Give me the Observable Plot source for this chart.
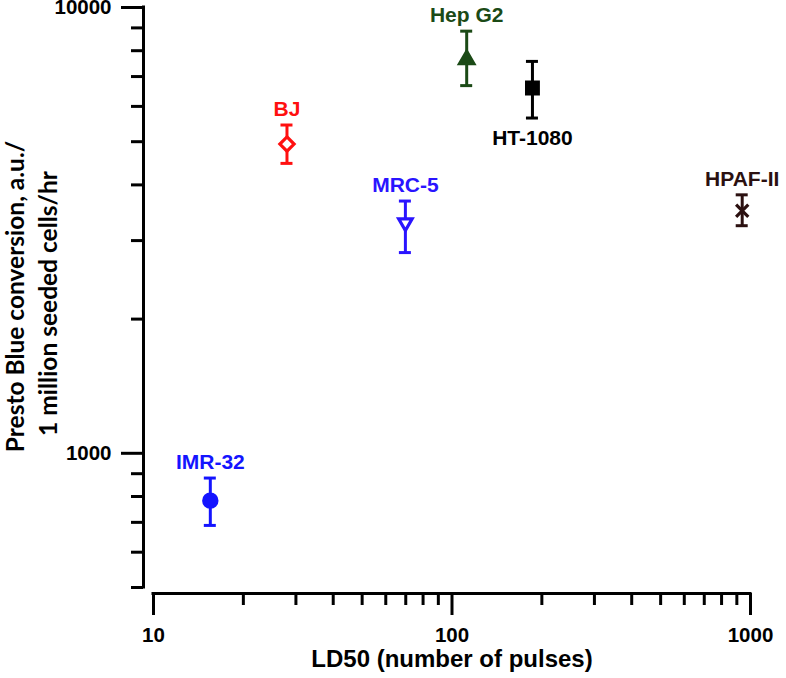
<!DOCTYPE html>
<html>
<head>
<meta charset="utf-8">
<script src="https://cdn.jsdelivr.net/npm/d3@7"></script>
<script src="https://cdn.jsdelivr.net/npm/@observablehq/plot@0.6"></script>
<style>
  html, body { margin: 0; padding: 0; background: #fff; }
  #chart svg { display: block; }
</style>
</head>
<body>
<div id="chart"></div>
<script>
// ---- data ----
const cellLines = ["IMR-32", "BJ", "MRC-5", "Hep G2", "HT-1080", "HPAF-II"];
const ld50      = [15.5, 28.0, 69.8, 112, 186, 938];
const presto    = [783, 4940, 3290, 7640, 6600, 3500];
const errLow    = [689, 4470, 2820, 6680, 5650, 3240];
const errHigh   = [880, 5450, 3680, 8850, 7570, 3800];
const colors    = ["#1414ff", "#ff1010", "#2a14ff", "#1b4a16", "#000000", "#2b1010"];
const symbols   = ["circle", "diamond2", "triangle", "triangle", "square", "times"];
const filled    = [true, false, false, true, true, false];
const rotations = [0, 0, 180, 0, 0, 0];
const symbolR   = [6.6, 6.4, 5.0, 5.3, 6.6, 5.6];
const labelBelow = [false, false, false, false, true, false];

const xDomain = [10, 1000];
const yDomain = [500, 10000];
const xMajorTicks = [10, 100, 1000];
const xMinorTicks = [20, 30, 40, 50, 60, 70, 80, 90, 200, 300, 400, 500, 600, 700, 800, 900];
const yMajorTicks = [1000, 10000];
const yMinorTicks = [500, 600, 700, 800, 900, 2000, 3000, 4000, 5000, 6000, 7000, 8000, 9000];

const xLabel = "LD50 (number of pulses)";
const yLabelLines = ["Presto Blue conversion, a.u./", "1 million seeded cells/hr"];

const data = cellLines.map((name, i) => ({
  name, x: ld50[i], y: presto[i], lo: errLow[i], hi: errHigh[i],
  color: colors[i], symbol: symbols[i], fill: filled[i] ? colors[i] : "white",
  rotate: rotations[i], r: symbolR[i], below: labelBelow[i]
}));

const tickFont = "Liberation Sans, Arial, sans-serif";
const labelFont = "Lato, 'Open Sans', sans-serif";

const chart = Plot.plot({
  width: 786,
  height: 678,
  marginLeft: 153,
  marginRight: 36,
  marginTop: 7,
  marginBottom: 91,
  style: { fontFamily: tickFont, background: "white", color: "black", overflow: "visible" },
  x: { type: "log", domain: xDomain },
  y: { type: "log", domain: yDomain },
  r: { type: "identity" },
  marks: [
    // axis lines (offset like the original)
    Plot.ruleX([xDomain[0]], { y1: yDomain[0], y2: yDomain[1], dx: -10, stroke: "black", strokeWidth: 3, strokeLinecap: "square" }),
    Plot.ruleY([yDomain[0]], { x1: xDomain[0], x2: xDomain[1], dy: 6, stroke: "black", strokeWidth: 3, strokeLinecap: "square" }),
    // y axis ticks
    Plot.axisY(yMajorTicks, {
      anchor: "left", dx: -10, tickSize: 22, tickPadding: 10, strokeWidth: 3,
      tickFormat: d => String(d), fontSize: 20.5, fontWeight: "bold", label: null
    }),
    Plot.axisY(yMinorTicks, {
      anchor: "left", dx: -10, tickSize: 12, strokeWidth: 3,
      tickFormat: () => "", label: null
    }),
    // x axis ticks
    Plot.axisX(xMajorTicks, {
      anchor: "bottom", dy: 6, tickSize: 22, tickPadding: 12, strokeWidth: 3,
      tickFormat: d => String(d), fontSize: 20.5, fontWeight: "bold", label: null
    }),
    Plot.axisX(xMinorTicks, {
      anchor: "bottom", dy: 6, tickSize: 12, strokeWidth: 3,
      tickFormat: () => "", label: null
    }),
    // axis titles
    Plot.text([xLabel], {
      frameAnchor: "bottom", dy: 79, lineAnchor: "bottom",
      fontSize: 24, fontWeight: "bold", fontFamily: tickFont, fill: "black"
    }),
    Plot.text([yLabelLines[0]], {
      frameAnchor: "left", rotate: -90, dx: -130, dy: -1, lineAnchor: "bottom", textAnchor: "middle",
      fontSize: 24.5, fontWeight: "bold", fontFamily: labelFont, fill: "black"
    }),
    Plot.text([yLabelLines[1]], {
      frameAnchor: "left", rotate: -90, dx: -97, dy: 6, lineAnchor: "bottom", textAnchor: "middle",
      fontSize: 24.5, fontWeight: "bold", fontFamily: labelFont, fill: "black"
    }),
    // error bars
    Plot.ruleX(data, { x: "x", y1: "lo", y2: "hi", stroke: "color", strokeWidth: 3 }),
    Plot.ruleY(data, { y: "hi", x1: "x", x2: "x", insetLeft: -6, insetRight: -6, stroke: "color", strokeWidth: 3 }),
    Plot.ruleY(data, { y: "lo", x1: "x", x2: "x", insetLeft: -6, insetRight: -6, stroke: "color", strokeWidth: 3 }),
    // markers
    Plot.dot(data, {
      x: "x", y: "y", symbol: "symbol", r: "r", rotate: "rotate",
      fill: "fill", stroke: "color", strokeWidth: 3.2
    }),
    // point labels
    Plot.text(data.filter(d => !d.below), {
      x: "x", y: "hi", text: "name", dy: -9, lineAnchor: "bottom",
      fill: "color", fontSize: 21, fontWeight: "bold", fontFamily: tickFont
    }),
    Plot.text(data.filter(d => d.below), {
      x: "x", y: "lo", text: "name", dy: 12, lineAnchor: "top",
      fill: "color", fontSize: 21, fontWeight: "bold", fontFamily: tickFont
    })
  ]
});

document.getElementById("chart").appendChild(chart);
</script>
</body>
</html>
